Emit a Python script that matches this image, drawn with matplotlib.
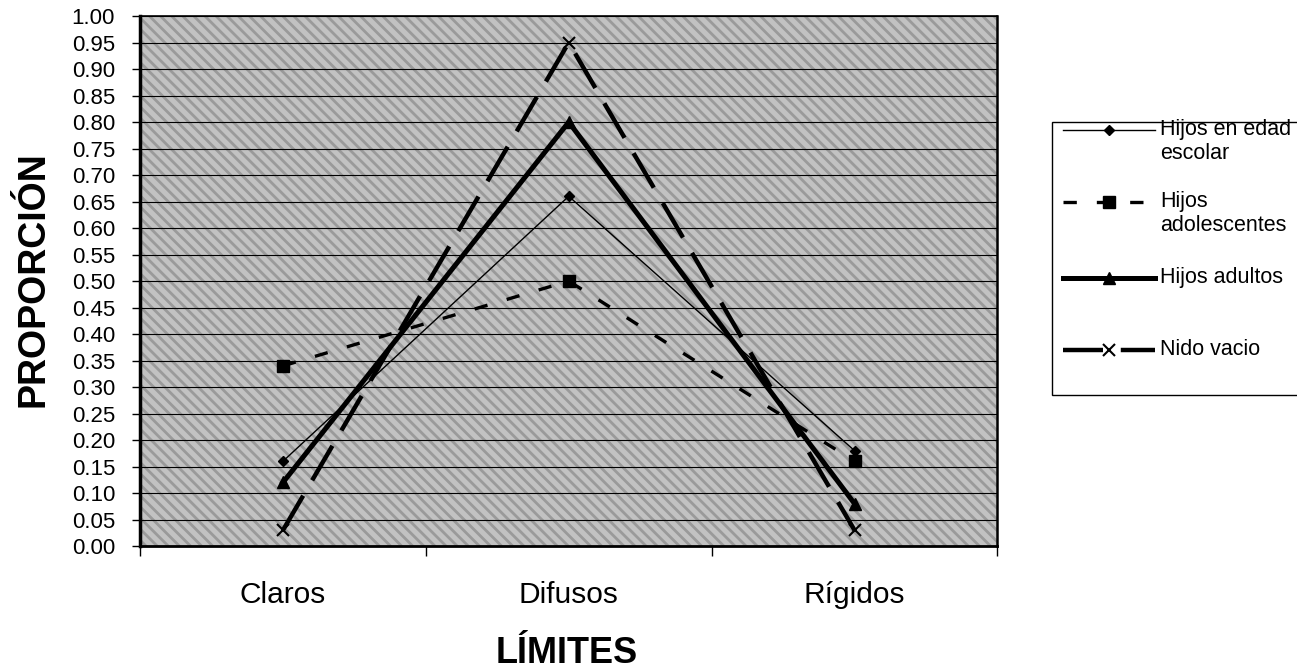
import matplotlib.pyplot as plt
from matplotlib.lines import Line2D
from matplotlib.patches import Rectangle
import numpy as np

plt.rcParams['font.family'] = ['Liberation Sans', 'DejaVu Sans']
plt.rcParams['hatch.linewidth'] = 2.0
plt.rcParams['hatch.color'] = '#9a9a9a'

categorias = ['Claros', 'Difusos', 'Rígidos']
escolar = [0.16, 0.66, 0.18]
adolescentes = [0.34, 0.50, 0.16]
adultos = [0.12, 0.80, 0.08]
nido_vacio = [0.03, 0.95, 0.03]
etiquetas = ['Hijos en edad\nescolar', 'Hijos\nadolescentes', 'Hijos adultos', 'Nido vacio']

estilos = [
    dict(color='black', lw=1.0, marker='D', ms=5),
    dict(color='black', lw=2.4, ls=(0, (4, 6)), marker='s', ms=8),
    dict(color='black', lw=3.6, marker='^', ms=8),
    dict(color='black', lw=3.2, ls=(0, (9, 4)), marker='x', ms=9, mew=1.5),
]


def main():
    fig = plt.figure(figsize=(12.97, 6.70), dpi=100)
    ax = fig.add_axes([0.108, 0.185, 0.661, 0.791])

    # fondo gris tramado
    ax.set_facecolor('#c2c2c2')
    ax.add_patch(Rectangle((0, 0), 1, 1, transform=ax.transAxes, facecolor='none',
                           edgecolor='#9a9a9a', lw=0, hatch='\\\\\\', zorder=0))

    x = np.arange(len(categorias)) + 0.5
    series = [escolar, adolescentes, adultos, nido_vacio]
    for vals, st in zip(series, estilos):
        ax.plot(x, vals, zorder=3, **st)

    ax.set_xlim(0, 3)
    ax.set_ylim(0, 1.0)
    yt = np.arange(0, 1.001, 0.05)
    ax.set_yticks(yt)
    ax.set_yticklabels(['%.2f' % v for v in yt], fontsize=16)
    ax.yaxis.grid(True, color='black', lw=0.8)
    ax.set_axisbelow(True)
    ax.tick_params(axis='y', direction='out', length=6, width=1, pad=12)

    ax.set_xticks([0, 1, 2, 3])
    ax.set_xticklabels([])
    ax.set_xticks(x, minor=True)
    ax.set_xticklabels(categorias, minor=True, fontsize=21.5)
    ax.tick_params(axis='x', which='major', direction='out', length=7, width=1)
    ax.tick_params(axis='x', which='minor', length=0, pad=25)

    ax.spines['left'].set_linewidth(2.5)
    ax.spines['bottom'].set_linewidth(2.0)
    ax.spines['top'].set_linewidth(1.2)
    ax.spines['right'].set_linewidth(1.8)

    fig.text(0.0255, 0.584, 'PROPORCIÓN', rotation=90, fontsize=27, fontweight='bold',
             ha='center', va='center')
    fig.text(0.437, 0.025, 'LÍMITES', fontsize=26, fontweight='bold',
             ha='center', va='center')

    # leyenda dibujada a mano
    W, H = 1297.0, 670.0
    fig.add_artist(Rectangle((1052 / W, 1 - 395 / H), 260 / W, (395 - 122) / H,
                             transform=fig.transFigure, facecolor='white',
                             edgecolor='black', lw=1.0))
    filas = [130, 202, 278, 350]
    for yy, st, lab in zip(filas, estilos, etiquetas):
        yf = 1 - yy / H
        linea = Line2D([1063 / W, 1155 / W], [yf, yf], transform=fig.transFigure,
                       **{k: v for k, v in st.items() if k not in ('marker', 'ms', 'mew')})
        fig.add_artist(linea)
        marca = Line2D([1109 / W], [yf], transform=fig.transFigure, color='black',
                       marker=st['marker'], ms=st['ms'], mew=st.get('mew', 1), lw=0)
        fig.add_artist(marca)
        fig.text(1160 / W, yf + 11 / H, lab, fontsize=15.5, ha='left', va='top',
                 linespacing=1.2)

    fig.savefig('out.png', dpi=100)


if __name__ == '__main__':
    main()
